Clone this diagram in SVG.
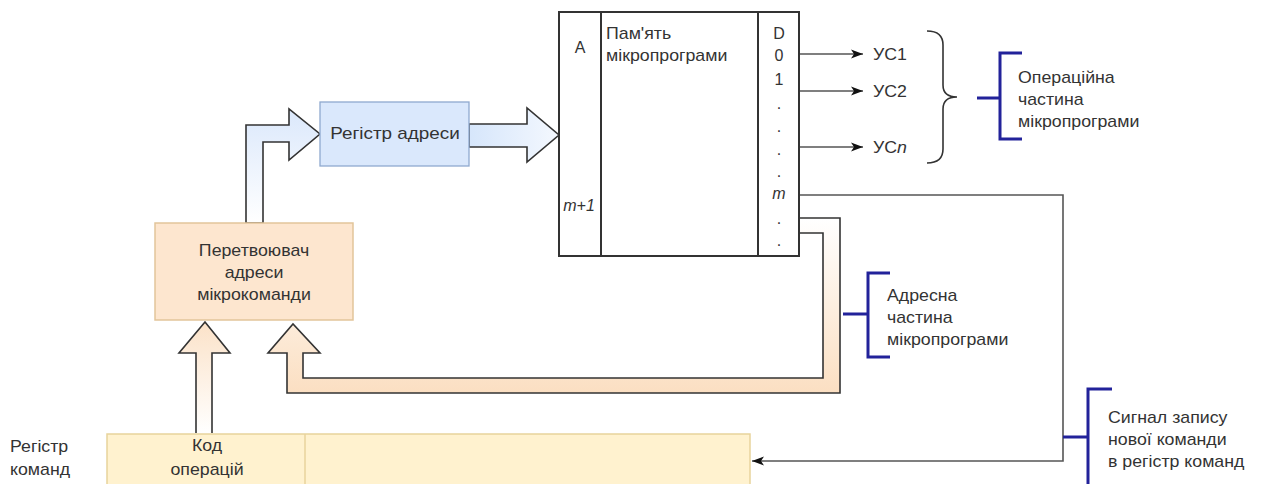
<svg xmlns="http://www.w3.org/2000/svg" width="1263" height="484" viewBox="0 0 1263 484">
<defs>
<style>
.t{font-family:"Liberation Sans",Arial,sans-serif;font-size:16px;fill:#333}
.m{text-anchor:middle}
.i{font-style:italic}
.ln{fill:none;stroke:#555;stroke-width:1.6}
.blk{fill:none;stroke:#22229a;stroke-width:3}
.arw{stroke:#333;stroke-width:1.6;stroke-linejoin:miter}
</style>
<marker id="ah" viewBox="0 0 12 10" refX="12" refY="5" markerWidth="12" markerHeight="10" markerUnits="userSpaceOnUse" orient="auto"><path d="M0,0.5 L12,5 L0,9.5 L3,5 Z" fill="#111"/></marker>
<linearGradient id="gBlue" x1="0" y1="0" x2="1" y2="0"><stop offset="0" stop-color="#d6e6fb"/><stop offset="1" stop-color="#f4f8fe"/></linearGradient>
<linearGradient id="gBlueV" gradientUnits="userSpaceOnUse" x1="0" y1="223" x2="0" y2="110"><stop offset="0" stop-color="#ffffff"/><stop offset="1" stop-color="#dbe8fb"/></linearGradient>
<linearGradient id="gPeachUp" gradientUnits="userSpaceOnUse" x1="0" y1="322" x2="0" y2="433"><stop offset="0" stop-color="#fbe2c8"/><stop offset="1" stop-color="#ffffff"/></linearGradient>
<linearGradient id="gPeachFb" gradientUnits="userSpaceOnUse" x1="0" y1="218" x2="0" y2="393"><stop offset="0" stop-color="#ffffff"/><stop offset="1" stop-color="#fbdfc2"/></linearGradient>
</defs>
<rect width="1263" height="484" fill="#ffffff"/>

<g id="connectors">
  <path class="arw" fill="url(#gBlue)" d="M469,124 L527,124 L527,108 L559,135 L527,162 L527,147 L469,147 Z"/>
  <path class="arw" fill="url(#gBlueV)" d="M246,223 L246,125 L289,125 L289,109 L320,134 L289,160 L289,142 L263,142 L263,223 Z"/>
  <path class="arw" fill="url(#gPeachUp)" d="M196,433 L196,353 L179,353 L205,322 L230,353 L212,353 L212,433"/>
  <path class="arw" fill="url(#gPeachFb)" d="M799,218 L840,218 L840,393 L287,393 L287,353 L268,353 L293,324 L320,353 L303,353 L303,378 L823,378 L823,233 L799,233"/>
  <line class="ln" x1="799" y1="54" x2="863" y2="54" marker-end="url(#ah)"/>
  <line class="ln" x1="799" y1="91" x2="863" y2="91" marker-end="url(#ah)"/>
  <line class="ln" x1="799" y1="147" x2="863" y2="147" marker-end="url(#ah)"/>
  <path class="ln" d="M799,195 L1063,195 L1063,461 L752,461" marker-end="url(#ah)"/>
</g>

<g id="memory">
  <rect x="559" y="12" width="240" height="244" fill="#ffffff" stroke="#333" stroke-width="2"/>
  <line x1="601" y1="12" x2="601" y2="256" stroke="#333" stroke-width="2"/>
  <line x1="758" y1="12" x2="758" y2="256" stroke="#333" stroke-width="2"/>
  <text class="t m" x="580" y="53">A</text>
  <text class="t" transform="translate(606 39) scale(1.11 1)">Пам'ять</text>
  <text class="t" transform="translate(606 61) scale(1.11 1)">мікропрограми</text>
  <text class="t i m" x="579" y="211">m+1</text>
  <text class="t m" x="779" y="39">D</text>
  <text class="t m" x="779" y="61">0</text>
  <text class="t m" x="779" y="85">1</text>
  <text class="t m" x="779" y="109" font-size="10">.</text>
  <text class="t m" x="779" y="132" font-size="10">.</text>
  <text class="t m" x="779" y="155" font-size="10">.</text>
  <text class="t m" x="779" y="177" font-size="10">.</text>
  <text class="t i m" x="779" y="199">m</text>
  <text class="t m" x="779" y="224" font-size="10">.</text>
  <text class="t m" x="779" y="246" font-size="10">.</text>
</g>

<g id="reg-addr">
  <rect x="320" y="102" width="149" height="64" fill="#dae8fc" stroke="#8fa9cf" stroke-width="1.3"/>
  <text class="t m" transform="translate(395 139) scale(1.18 1)">Регістр адреси</text>
</g>

<g id="converter">
  <rect x="155" y="223" width="198" height="97" fill="#fde6cf" stroke="#e2c59a" stroke-width="1.5"/>
  <text class="t m" transform="translate(254 256) scale(1.11 1)">Перетвоювач</text>
  <text class="t m" transform="translate(254 278) scale(1.11 1)">адреси</text>
  <text class="t m" transform="translate(254 300) scale(1.11 1)">мікрокоманди</text>
</g>

<g id="cmd-reg">
  <rect x="107" y="434" width="643" height="60" fill="#fff2cf" stroke="#e8d39c" stroke-width="1.5"/>
  <line x1="305" y1="434" x2="305" y2="484" stroke="#e8d39c" stroke-width="1.5"/>
  <text class="t m" transform="translate(207 451) scale(1.11 1)">Код</text>
  <text class="t m" transform="translate(207 475) scale(1.11 1)">операцій</text>
  <text class="t" transform="translate(10 452) scale(1.11 1)">Регістр</text>
  <text class="t" transform="translate(10 475) scale(1.11 1)">команд</text>
</g>

<g id="outputs">
  <text class="t" transform="translate(873 60) scale(1.11 1)">УС1</text>
  <text class="t" transform="translate(873 97) scale(1.11 1)">УС2</text>
  <text class="t" transform="translate(873 153) scale(1.11 1)">УС<tspan font-style="italic">n</tspan></text>
  <path fill="none" stroke="#333" stroke-width="1.6" d="M927,31 Q943,31 943,45 L943,85 Q943,97 957,97 Q943,97 943,109 L943,149 Q943,163 927,163"/>
</g>

<g id="note-oper">
  <path class="blk" d="M977,98 L1000,98 M1022,53 L1000,53 L1000,139 L1022,139"/>
  <text class="t" transform="translate(1018 83) scale(1.11 1)">Операційна</text>
  <text class="t" transform="translate(1018 105) scale(1.11 1)">частина</text>
  <text class="t" transform="translate(1018 127) scale(1.11 1)">мікропрограми</text>
</g>

<g id="note-addr">
  <path class="blk" d="M843,314 L868,314 M890,273 L868,273 L868,357 L890,357"/>
  <text class="t" transform="translate(887 301) scale(1.11 1)">Адресна</text>
  <text class="t" transform="translate(887 323) scale(1.11 1)">частина</text>
  <text class="t" transform="translate(887 345) scale(1.11 1)">мікропрограми</text>
</g>

<g id="note-signal">
  <path class="blk" d="M1063,437 L1088,437 M1112,389 L1088,389 L1088,490"/>
  <text class="t" transform="translate(1108 423) scale(1.11 1)">Сигнал запису</text>
  <text class="t" transform="translate(1108 445) scale(1.11 1)">нової команди</text>
  <text class="t" transform="translate(1108 467) scale(1.11 1)">в регістр команд</text>
</g>
</svg>
